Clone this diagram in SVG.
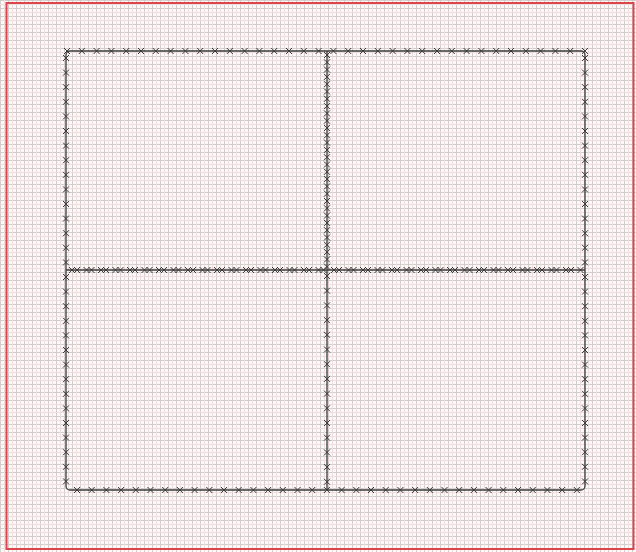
<svg xmlns="http://www.w3.org/2000/svg" width="636" height="552" viewBox="0 0 636 552">
<defs>
<pattern id="grid" width="8" height="8" patternUnits="userSpaceOnUse">
<rect width="8" height="8" fill="#fcf9f9"/>
<path d="M0.5 0V8M0 0.5H8" stroke="#d2cdcd" stroke-width="1"/>
<path d="M4.5 0V8M0 4.5H8" stroke="#f0dcdd" stroke-width="1"/>
</pattern>
<marker id="x" markerWidth="8" markerHeight="8" refX="4" refY="4" markerUnits="userSpaceOnUse" overflow="visible">
<path d="M1,1 L7,7 M7,1 L1,7" stroke="#3a3a3a" stroke-width="1" fill="none"/>
</marker>
</defs>
<style>
.frame{fill:none;stroke:#3a3a3a;stroke-width:1.3}
.mk{fill:none;stroke:none;marker-start:url(#x);marker-mid:url(#x);marker-end:url(#x)}
</style>
<rect width="636" height="552" fill="url(#grid)"/>
<rect x="6.5" y="3" width="627" height="546" fill="none" stroke="#d9474d" stroke-width="2"/>
<g id="outline">
<rect class="frame" x="66" y="51" width="519" height="439" rx="4"/>
<path class="mk" d="M67 51h14.8h14.8h14.8h14.8h14.8h14.8h14.8h14.8h14.8h14.8h14.8h14.8h14.8h14.8h14.8h14.8h14.8h14.8h14.8h14.8h14.8h14.8h14.8h14.8h14.8h14.8h14.8h14.8h14.8h14.8h14.8h14.8h14.8h14.8h14.8"/>
<path class="mk" d="M77 490h14.7h14.7h14.7h14.7h14.7h14.7h14.7h14.7h14.7h14.7h14.7h14.7h14.7h14.7h14.7h14.7h14.7h14.7h14.7h14.7h14.7h14.7h14.7h14.7h14.7h14.7h14.7h14.7h14.7h14.7h14.7h14.7h14.7h14.7"/>
<path class="mk" d="M66 58v14.6v14.6v14.6v14.6v14.6v14.6v14.6v14.6v14.6v14.6v14.6v14.6v14.6v14.6v14.6v14.6v14.6v14.6v14.6v14.6v14.6v14.6v14.6v14.6v14.6v14.6v14.6v14.6v14.6"/>
<path class="mk" d="M585 58v14.6v14.6v14.6v14.6v14.6v14.6v14.6v14.6v14.6v14.6v14.6v14.6v14.6v14.6v14.6v14.6v14.6v14.6v14.6v14.6v14.6v14.6v14.6v14.6v14.6v14.6v14.6v14.6v14.6"/>
</g>
<g id="dividers">
<path class="frame" d="M327 51V490M66 270H585"/>
<path class="mk" d="M327 55v7.3v7.3v7.3v7.3v7.3v7.3v7.3v7.3v7.3v7.3v7.3v7.3v7.3v7.3v7.3v7.3v7.3v7.3v7.3v7.3v7.3v7.3v7.3v7.3v7.3v7.3v7.3v7.3v7.3"/>
<path class="mk" d="M327 276v14.7v14.7v14.7v14.7v14.7v14.7v14.7v14.7v14.7v14.7v14.7v14.7v14.7v14.7"/>
<path class="mk" d="M72 270h14.5h14.5h14.5h14.5h14.5h14.5h14.5h14.5h14.5h14.5h14.5h14.5h14.5h14.5h14.5h14.5h14.5"/>
<path class="mk" d="M77 270h14.5h14.5h14.5h14.5h14.5h14.5h14.5h14.5h14.5h14.5h14.5h14.5h14.5h14.5h14.5h14.5h14.5"/>
<path class="mk" d="M334 270h14.5h14.5h14.5h14.5h14.5h14.5h14.5h14.5h14.5h14.5h14.5h14.5h14.5h14.5h14.5h14.5h14.5"/>
<path class="mk" d="M339 270h14.5h14.5h14.5h14.5h14.5h14.5h14.5h14.5h14.5h14.5h14.5h14.5h14.5h14.5h14.5h14.5"/>
</g>
</svg>
